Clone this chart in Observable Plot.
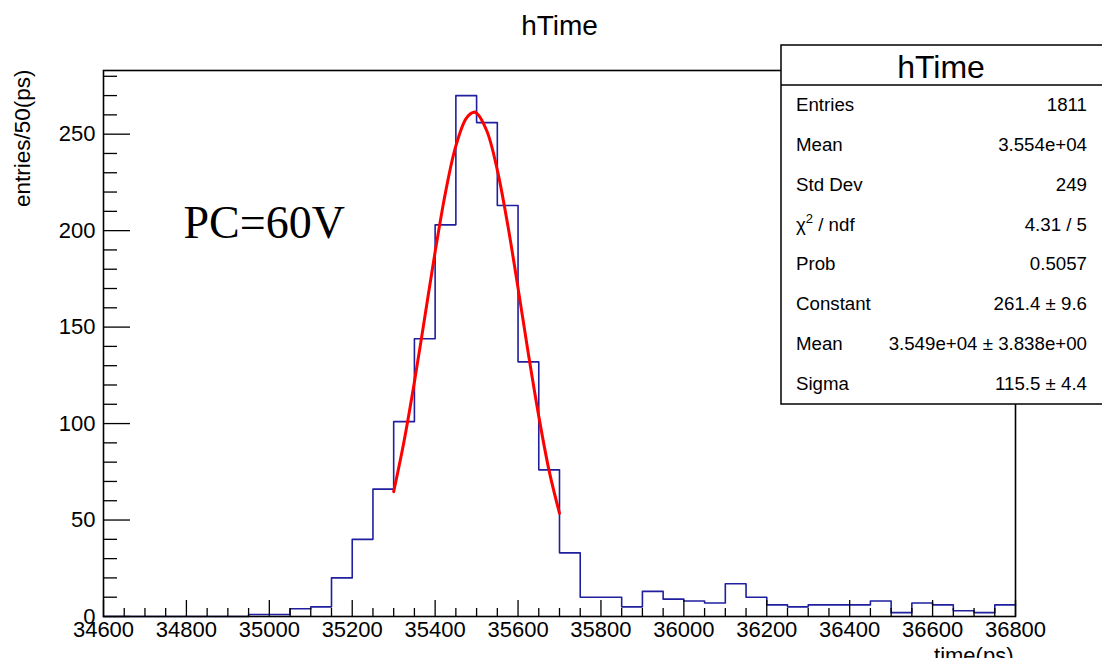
<!DOCTYPE html>
<html>
<head>
<meta charset="utf-8">
<script src="https://cdn.jsdelivr.net/npm/d3@7"></script>
<script src="https://cdn.jsdelivr.net/npm/@observablehq/plot@0.6"></script>
<style>
html, body { margin: 0; padding: 0; overflow: hidden; background: #fff; }
#chart { width: 1102px; height: 658px; overflow: hidden; }
</style>
</head>
<body>
<div id="chart"></div>
<script>
// ---- data ----
const binStarts = [34600,34650,34700,34750,34800,34850,34900,34950,35000,35050,35100,35150,35200,35250,35300,35350,35400,35450,35500,35550,35600,35650,35700,35750,35800,35850,35900,35950,36000,36050,36100,36150,36200,36250,36300,36350,36400,36450,36500,36550,36600,36650,36700,36750];
const binEnd = 36800;
const counts = [0,0,0,0,0,0,0,1,1,4,5,20,40,66,101,144,203,270,256,213,132,76,33,10,10,5,13,9,8,7,17,10,6,5,6,6,6,8,2,7,6,3,2,6];

const fitX = [35300,35325,35350,35375,35400,35425,35450,35475,35493,35500,35525,35550,35575,35600,35625,35650,35675,35700];
const fitY = [64.7,90.8,121.5,155.1,189.0,219.8,243.9,258.2,261.4,260.9,251.5,231.4,203.2,170.2,136.0,103.8,75.5,53.5];

const xMajor = [34600,34800,35000,35200,35400,35600,35800,36000,36200,36400,36600,36800];
const xMinor = [34650,34700,34750,34850,34900,34950,35050,35100,35150,35250,35300,35350,35450,35500,35550,35650,35700,35750,35850,35900,35950,36050,36100,36150,36250,36300,36350,36450,36500,36550,36650,36700,36750];
const yMajor = [0,50,100,150,200,250];
const yMinor = [10,20,30,40,60,70,80,90,110,120,130,140,160,170,180,190,210,220,230,240,260,270,280];

const titleText = "hTime";
const xTitle = "time(ps)";
const yTitle = "entries/50(ps)";
const annotation = "PC=60V";

const statsTitle = "hTime";
const statsLabels = ["Entries","Mean","Std Dev","χ2 / ndf","Prob","Constant","Mean","Sigma"];
const statsValues = ["1811","3.554e+04","249","4.31 / 5","0.5057","261.4 ± 9.6","3.549e+04 ± 3.838e+00","115.5 ± 4.4"];

// ---- build tables ----
const histPts = binStarts.map((x, i) => ({x, y: counts[i]}));
histPts.push({x: binEnd, y: counts[counts.length - 1]});
const fitPts = fitX.map((x, i) => ({x, y: fitY[i]}));

const sans = "Liberation Sans, Arial, Helvetica, sans-serif";

const plot = Plot.plot({
  width: 1102,
  height: 658,
  marginLeft: 103,
  marginRight: 87,
  marginTop: 70,
  marginBottom: 42,
  style: {fontFamily: sans, fontSize: "22px", color: "#000", background: "#fff"},
  x: {domain: [34600, 36800]},
  y: {domain: [0, 283]},
  marks: [
    Plot.line(histPts, {x: "x", y: "y", curve: "step-after", stroke: "#1f1f9f", strokeWidth: 1.6}),
    Plot.line(fitPts, {x: "x", y: "y", curve: "catmull-rom", stroke: "#ff0000", strokeWidth: 3}),
    Plot.axisX({ticks: xMajor, tickSize: 0, tickPadding: 5, tickFormat: d => String(d), fontSize: 22, label: null}),
    Plot.axisX({ticks: xMajor, tickSize: -16, fill: "none", strokeWidth: 1.3, label: null}),
    Plot.axisX({ticks: xMinor, tickSize: -8, fill: "none", strokeWidth: 1.3, label: null}),
    Plot.axisY({ticks: yMajor, tickSize: 0, tickPadding: 8, tickFormat: d => String(d), fontSize: 22, label: null}),
    Plot.axisY({ticks: yMajor, tickSize: -27, fill: "none", strokeWidth: 1.3, label: null}),
    Plot.axisY({ticks: yMinor, tickSize: -14, fill: "none", strokeWidth: 1.3, label: null}),
    Plot.frame({stroke: "#000", strokeWidth: 1.6}),
    Plot.text([titleText], {text: d => d, frameAnchor: "top", dy: -36, lineAnchor: "bottom", fontSize: 28, fill: "#000"}),
    Plot.text([annotation], {text: d => d, frameAnchor: "top-left", dx: 80, dy: 167, textAnchor: "start", lineAnchor: "bottom", fontSize: 46, fontFamily: "Liberation Serif, Times New Roman, serif", fill: "#000"}),
    Plot.text([yTitle], {text: d => d, frameAnchor: "top-left", dx: -74, dy: -1, rotate: -90, textAnchor: "end", lineAnchor: "bottom", fontSize: 22.5, fill: "#000"}),
    Plot.text([xTitle], {text: d => d, frameAnchor: "bottom-right", dx: -2, dy: 46, textAnchor: "end", lineAnchor: "bottom", fontSize: 22, fill: "#000"})
  ]
});

document.getElementById("chart").appendChild(plot);

// ---- stats box (annotation) ----
const svg = d3.select(plot);
const g = svg.append("g").attr("font-family", sans).attr("fill", "#000").attr("text-anchor", "start");
const bx = 781, by = 45, bw = 340, bh = 359, hh = 40;
g.append("rect").attr("x", bx).attr("y", by).attr("width", bw).attr("height", bh)
  .attr("fill", "#fff").attr("stroke", "#000").attr("stroke-width", 1.5);
g.append("line").attr("x1", bx).attr("x2", bx + bw).attr("y1", by + hh).attr("y2", by + hh)
  .attr("stroke", "#000").attr("stroke-width", 1.5);
g.append("text").attr("x", 941).attr("y", by + 33).attr("text-anchor", "middle")
  .attr("font-size", 32).text(statsTitle);
const rowH = (bh - hh) / statsLabels.length;
statsLabels.forEach((lab, i) => {
  const yb = by + hh + rowH * i + rowH / 2 + 6;
  const t = g.append("text").attr("x", bx + 15).attr("y", yb).attr("text-anchor", "start").attr("font-size", 18.7);
  if (lab.startsWith("χ2")) {
    t.append("tspan").text("χ");
    t.append("tspan").attr("font-size", 13).attr("dy", -8).text("2");
    t.append("tspan").attr("dy", 8).text(" / ndf");
  } else {
    t.text(lab);
  }
  g.append("text").attr("x", 1087).attr("y", yb).attr("text-anchor", "end")
    .attr("font-size", 18.7).text(statsValues[i]);
});
</script>
</body>
</html>
